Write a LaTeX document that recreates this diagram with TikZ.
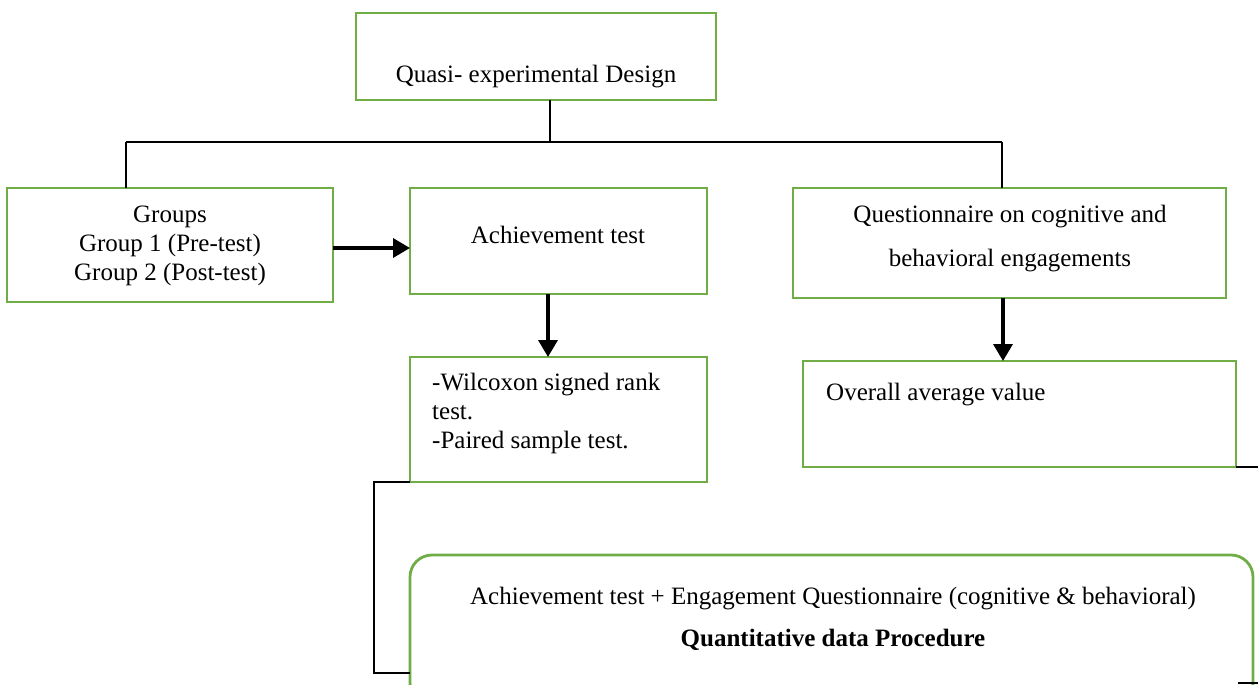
\documentclass[tikz,border=0pt]{standalone}
\usepackage{fontspec}
\setmainfont{Liberation Serif}
\usetikzlibrary{arrows.meta,calc}
\definecolor{boxgreen}{RGB}{112,173,71}
\begin{document}
\begin{tikzpicture}[x=1pt,y=-1pt,
  gbox/.style={draw=boxgreen,line width=2.8pt,inner sep=0pt,outer sep=0pt,anchor=north west},
  txt/.style={inner sep=0pt,font=\fontsize{25}{29}\selectfont},
  conn/.style={draw=black,line width=1.2pt},
  arr/.style={draw=black,line width=3.6pt,-{Triangle[width=19pt,length=17pt]}}]
\clip (0,0) rectangle (1258,685);
\fill[white] (0,0) rectangle (1258,685);
% boxes
\node[gbox,minimum width=360pt,minimum height=87pt] (top) at (356,13) {};
\node[gbox,minimum width=326pt,minimum height=114pt] (groups) at (7,188) {};
\node[gbox,minimum width=297pt,minimum height=106pt] (ach) at (410,188) {};
\node[gbox,minimum width=433pt,minimum height=110pt] (quest) at (793,188) {};
\node[gbox,minimum width=297pt,minimum height=125pt] (wil) at (410,357) {};
\node[gbox,minimum width=433pt,minimum height=106pt] (over) at (803,361) {};
\node[gbox,rounded corners=22pt,minimum width=843pt,minimum height=150pt] (bot) at (410,555) {};
% texts
\node[txt] (ttop) at (536,77) {Quasi- experimental Design};
\node[txt,align=center] (tgroups) at (170,246) {Groups\\Group 1 (Pre-test)\\Group 2 (Post-test)};
\node[txt] (tach) at (558,235) {Achievement test};
\node[txt,align=center,font=\fontsize{25}{44}\selectfont] (tquest) at (1010,239) {Questionnaire on cognitive and\\behavioral engagements};
\node[txt,align=left,anchor=north west] (twil) at (432,373) {-Wilcoxon signed rank\\test.\\-Paired sample test.};
\node[txt,anchor=west] (tover) at (826,395) {Overall average value};
\node[txt] (tbot1) at (833,599) {Achievement test + Engagement Questionnaire (cognitive \& behavioral)};
\node[txt,font=\fontsize{25}{29}\selectfont\bfseries] (tbot2) at (833,640) {Quantitative data Procedure};
% connector coordinates
\coordinate (j) at (550,142);
\coordinate (lj) at (126,142);
\coordinate (rj) at (1002,142);
\coordinate (ya) at (0,248);
\coordinate (xa) at (548,0);
\coordinate (xq) at (1003,0);
\coordinate (b1) at (374,482);
\coordinate (b2) at (374,673);
\coordinate (r1) at (1262,467);
\coordinate (r2) at (1238,683);
\coordinate (r3) at (1262,683);
% connectors
\draw[conn] (top.south -| j) -- (j);
\draw[conn] (lj) -- (rj);
\draw[conn] (lj) -- (lj |- groups.north);
\draw[conn] (rj) -- (rj |- quest.north);
\draw[arr] (groups.east |- ya) -- (ach.west |- ya);
\draw[arr] (ach.south -| xa) -- (wil.north -| xa);
\draw[arr] (quest.south -| xq) -- (over.north -| xq);
\draw[conn] (wil.south west) -- (b1) -- (b2) -- (b2 -| bot.west);
\draw[conn] (over.south east) -- (r1);
\draw[conn] (r2) -- (r3);
\end{tikzpicture}
\end{document}
